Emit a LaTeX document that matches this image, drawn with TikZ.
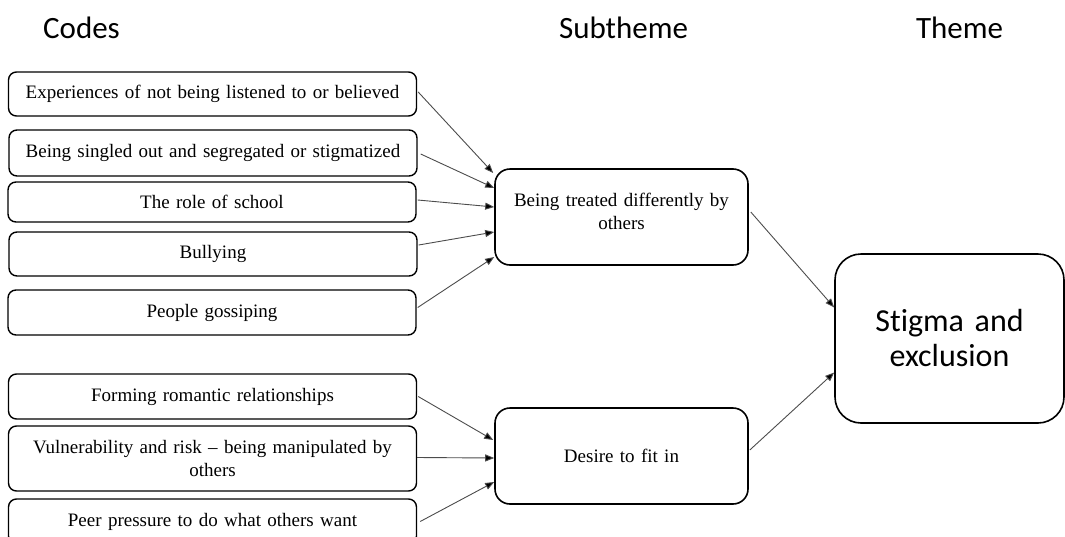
\documentclass[tikz,border=0pt]{standalone}
\usepackage{fontspec}
\setmainfont{Liberation Serif}
\newfontfamily\headfont[Ligatures=NoCommon]{Carlito}
\usetikzlibrary{arrows.meta,calc}
\begin{document}
\begin{tikzpicture}[x=1pt,y=-1pt,
  codebox/.style={draw=black,line width=1.4pt,rounded corners=8pt,inner sep=0pt,
    minimum width=408pt,font=\fontsize{19}{23}\selectfont,align=center,text width=400pt},
  subbox/.style={draw=black,line width=1.6pt,rounded corners=15pt,inner sep=0pt,
    minimum width=253pt,minimum height=96pt,font=\fontsize{19}{23}\selectfont,align=center,text width=235pt},
  themebox/.style={draw=black,line width=1.6pt,rounded corners=26pt,inner sep=0pt,
    minimum width=229pt,minimum height=169pt,font=\headfont\fontsize{32}{35}\selectfont,align=center,text width=210pt},
  head/.style={font=\headfont\fontsize{31}{35}\selectfont,anchor=base,inner sep=0pt},
  arr/.style={draw=black!70,line width=0.9pt,-{Triangle[length=9pt,width=7pt,fill=black]}}
]
\path[use as bounding box] (0,0) rectangle (1065,536);
\clip (0,0) rectangle (1065,536);

\node[head] (hcodes) at (81.5,38) {Codes};
\node[head] (hsub) at (623.5,38) {Subtheme};
\node[head] (htheme) at (959.5,38) {Theme};

\node[codebox,minimum height=44pt] (c1) at (212.5,94) {Experiences of not being listened to or believed};
\node[codebox,minimum height=46pt] (c2) at (213,153) {Being singled out and segregated or stigmatized};
\node[codebox,minimum height=40pt] (c3) at (212,202) {The role of school};
\node[codebox,minimum height=44pt] (c4) at (213,254) {Bullying};
\node[codebox,minimum height=45pt] (c5) at (212,312.5) {People gossiping};
\node[codebox,minimum height=45pt] (c6) at (212.5,396.5) {Forming romantic relationships};
\node[codebox,minimum height=65pt] (c7) at (212.5,458.5) {Vulnerability and risk -- being manipulated by\\ others};
\node[codebox,minimum height=45pt] (c8) at (212.5,521.5) {Peer pressure to do what others want};

\node[subbox,label={[font=\fontsize{19}{23}\selectfont,align=center,text width=235pt,inner sep=0pt,yshift=6pt]center:Being treated differently by\\ others}] (m1) at (621.5,217) {};
\node[subbox] (m2) at (621.5,456) {Desire to fit in};

\node[themebox] (t) at (949.5,338.5) {Stigma and\\ exclusion};

\draw[arr] ($(c1.east)+(1,-2)$) -- ($(m1.west)+(-1,-44)$);
\draw[arr] ($(c2.east)+(3,1)$) -- ($(m1.west)+(0,-29)$);
\draw[arr] ($(c3.east)+(1,-2)$) -- ($(m1.west)+(0,-10)$);
\draw[arr] ($(c4.east)+(1,-9)$) -- ($(m1.west)+(0,15)$);
\draw[arr] ($(c5.east)+(1,-5)$) -- ($(m1.west)+(0,40)$);

\draw[arr] ($(c6.east)+(1,0)$) -- ($(m2.west)+(-1,-16)$);
\draw[arr] ($(c7.east)+(0,-1)$) -- ($(m2.west)+(0,2)$);
\draw[arr] ($(c8.east)+(3,0)$) -- ($(m2.west)+(0,26)$);

\draw[arr] ($(m1.east)+(2,-5)$) -- ($(t.west)+(0,-31)$);
\draw[arr] ($(m2.east)+(1,-6)$) -- ($(t.west)+(0,34)$);
\end{tikzpicture}
\end{document}
